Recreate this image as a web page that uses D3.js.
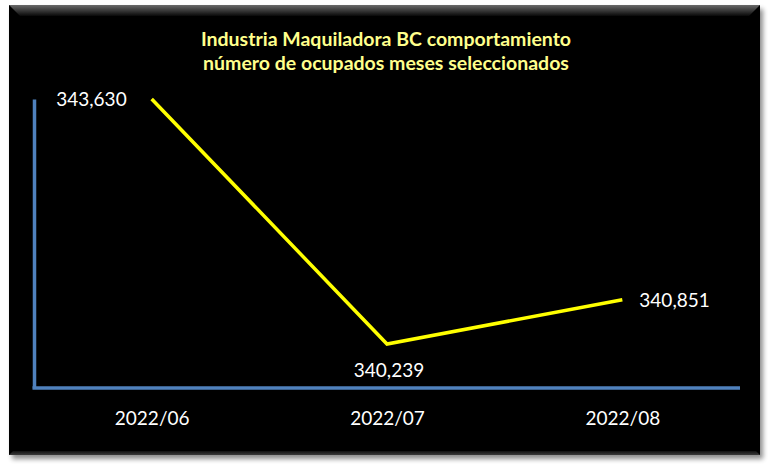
<!DOCTYPE html>
<html><head><meta charset="utf-8">
<script src="https://cdn.jsdelivr.net/npm/d3@7"></script>
<style>html,body{margin:0;padding:0;background:#fff;}svg{display:block;}</style>
</head><body>
<svg id="c" width="770" height="470"></svg>
<script>
const categories = ["2022/06", "2022/07", "2022/08"];
const values = [343630, 340239, 340851];
const titleLines = ["Industria Maquiladora BC comportamiento", "número de ocupados meses seleccionados"];

(function(){
const svg = d3.select("#c");
const defs = svg.append("defs");
const f = defs.append("filter").attr("id","sh").attr("x","-5%").attr("y","-5%").attr("width","115%").attr("height","115%");
f.append("feGaussianBlur").attr("in","SourceAlpha").attr("stdDeviation",2.5);
f.append("feOffset").attr("dx",3).attr("dy",4).attr("result","b");
f.append("feComponentTransfer").append("feFuncA").attr("type","linear").attr("slope",0.45);
const m = f.append("feMerge"); m.append("feMergeNode"); m.append("feMergeNode").attr("in","SourceGraphic");
const g1 = defs.append("linearGradient").attr("id","tb").attr("x1",0).attr("y1",0).attr("x2",0).attr("y2",1);
g1.append("stop").attr("offset","0%").attr("stop-color","#6a6a6a");
g1.append("stop").attr("offset","100%").attr("stop-color","#080808");
const g2 = defs.append("linearGradient").attr("id","bb").attr("x1",0).attr("y1",0).attr("x2",0).attr("y2",1);
g2.append("stop").attr("offset","0%").attr("stop-color","#111");
g2.append("stop").attr("offset","100%").attr("stop-color","#3a3a3a");

const X0=9, Y0=5, X1=760, Y1=455;
svg.append("rect").attr("x",X0).attr("y",Y0).attr("width",X1-X0).attr("height",Y1-Y0).attr("fill","#060606").attr("filter","url(#sh)");
svg.append("polygon").attr("points",`${X0},${Y0} ${X1},${Y0} ${X1-11},${Y0+11} ${X0+11},${Y0+11}`).attr("fill","url(#tb)");
svg.append("polygon").attr("points",`${X0},${Y1} ${X1},${Y1} ${X1-4},${Y1-4} ${X0+4},${Y1-4}`).attr("fill","url(#bb)");

svg.append("g").selectAll("text").data(titleLines).join("text")
  .attr("x",386).attr("y",(d,i)=>46+i*24).attr("text-anchor","middle")
  .attr("font-family","Lato, sans-serif").attr("font-weight","bold").attr("font-size",19.5)
  .attr("fill","#ffff8c").text(d=>d);

const pL=34, pR=740, pT=99, pB=388;
const x = d3.scalePoint().domain(categories).range([pL,pR]).padding(0.5);
const y = d3.scaleLinear().domain([339630,343630]).range([pB,pT]);

const yAxis = d3.axisLeft(y).tickValues([]).tickSize(0);
svg.append("g").attr("transform",`translate(${pL},0)`).call(yAxis)
  .call(g=>g.select(".domain").attr("stroke","#4f81bd").attr("stroke-width",3.5));
const xAxis = d3.axisBottom(x).tickSize(0).tickPadding(24);
svg.append("g").attr("transform",`translate(0,${pB})`).call(xAxis)
  .call(g=>g.select(".domain").attr("stroke","#4f81bd").attr("stroke-width",3.5).attr("d",`M${pL-1.5},0H${pR}`))
  .call(g=>g.selectAll("text").attr("fill","#fff").attr("font-family","Lato, sans-serif").attr("font-size",19));

const line = d3.line().x((d,i)=>x(categories[i])).y(d=>y(d));
svg.append("path").datum(values).attr("d",line).attr("fill","none").attr("stroke","#ffff00").attr("stroke-width",3.5).attr("stroke-linejoin","miter");

const fmt = d3.format(",");
const offs = [{dx:-25,dy:7,a:"end"},{dx:2,dy:33,a:"middle"},{dx:17,dy:7,a:"start"}];
svg.append("g").selectAll("text").data(values).join("text")
  .attr("x",(d,i)=>x(categories[i])+offs[i].dx).attr("y",(d,i)=>y(d)+offs[i].dy)
  .attr("text-anchor",(d,i)=>offs[i].a)
  .attr("font-family","Lato, sans-serif").attr("font-size",19).attr("fill","#fff")
  .text(d=>fmt(d));
})();
</script>
</body></html>
